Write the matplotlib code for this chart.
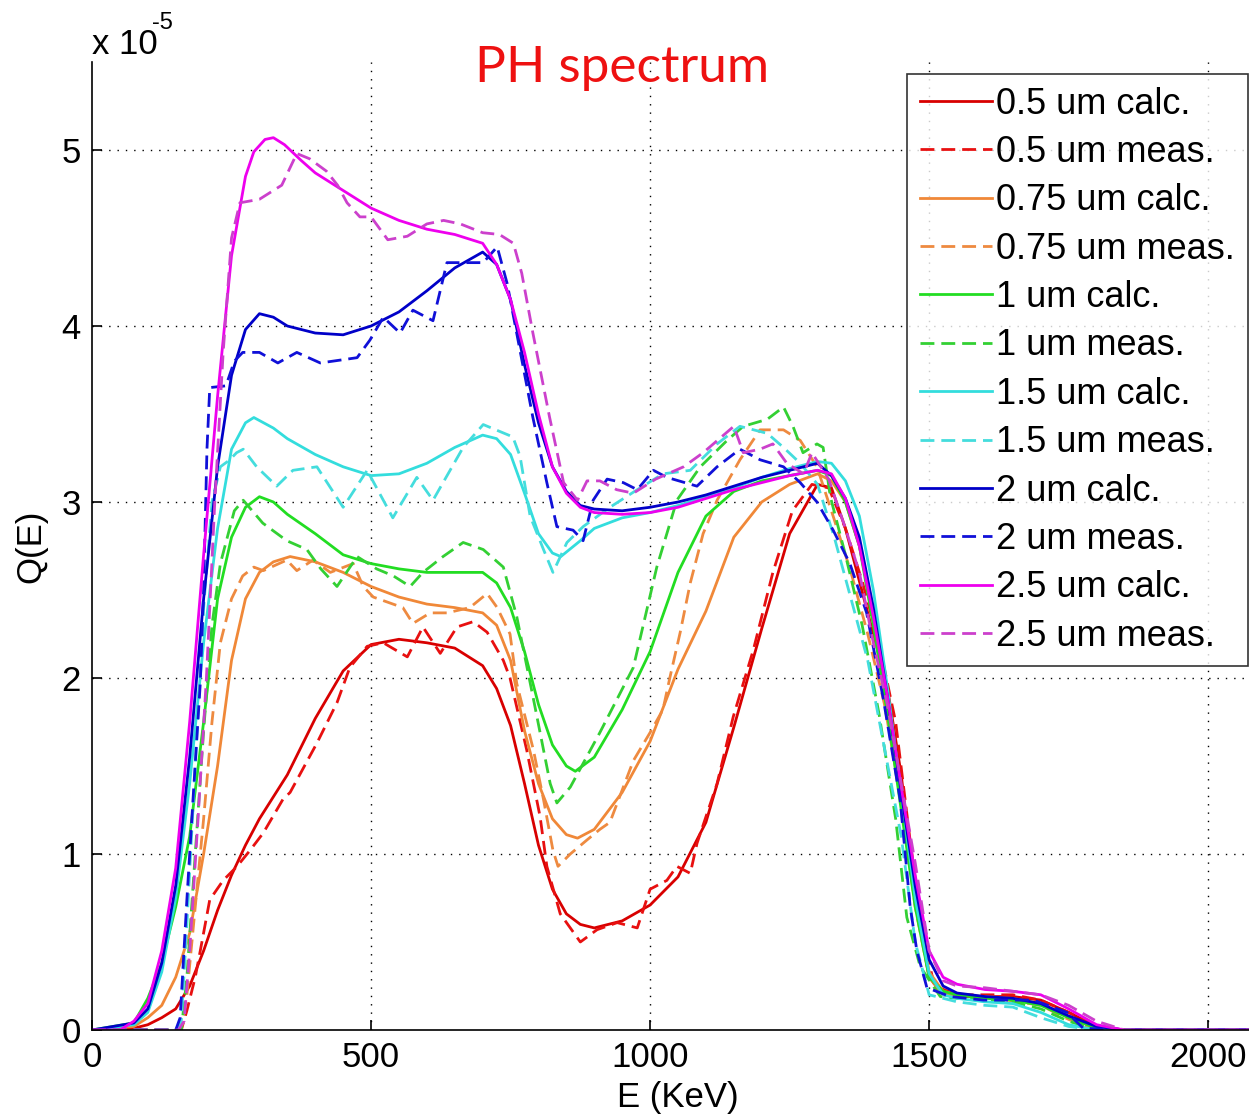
import matplotlib
matplotlib.use("Agg")
import matplotlib.pyplot as plt

# ---------------- data (Q in units of 1e-5) ----------------
E_r_calc = [0, 75, 100, 125, 150, 175, 200, 225, 250, 275, 300, 350, 400, 450, 500, 550, 600, 650, 700, 725, 750, 775, 800, 825, 850, 875, 900, 950, 1000, 1050, 1100, 1150, 1200, 1250, 1300, 1325, 1350, 1375, 1400, 1425, 1450, 1475, 1500, 1525, 1550, 1600, 1650, 1700, 1750, 1800, 1850, 2100]
Q_r_calc = [0, 0.01, 0.03, 0.07, 0.12, 0.25, 0.45, 0.68, 0.88, 1.05, 1.2, 1.45, 1.77, 2.04, 2.19, 2.22, 2.2, 2.17, 2.07, 1.94, 1.73, 1.4, 1.05, 0.8, 0.66, 0.6, 0.58, 0.62, 0.71, 0.87, 1.18, 1.72, 2.28, 2.82, 3.1, 3.08, 2.85, 2.55, 2.25, 1.95, 1.45, 0.75, 0.3, 0.2, 0.19, 0.19, 0.19, 0.17, 0.1, 0.02, 0, 0]

E_r_meas = [0, 160, 170, 185, 194, 211, 235, 260, 283, 307, 342, 355, 403, 439, 462, 493, 522, 565, 593, 624, 654, 683, 708, 737, 749, 779, 803, 815, 839, 875, 905, 941, 977, 1000, 1030, 1048, 1072, 1084, 1120, 1149, 1185, 1220, 1255, 1290, 1320, 1350, 1380, 1410, 1440, 1465, 1490, 1510, 1550, 1600, 1650, 1700, 1750, 1800, 1850, 2100]
Q_r_meas = [0, 0, 0.11, 0.3, 0.45, 0.74, 0.85, 0.93, 1.02, 1.12, 1.31, 1.35, 1.63, 1.86, 2.06, 2.18, 2.2, 2.12, 2.29, 2.14, 2.29, 2.32, 2.26, 2.1, 2.0, 1.59, 1.21, 0.93, 0.66, 0.5, 0.57, 0.61, 0.58, 0.8, 0.85, 0.93, 0.89, 1.06, 1.4, 1.78, 2.16, 2.6, 2.95, 3.1, 3.08, 2.85, 2.55, 2.2, 1.75, 1.1, 0.5, 0.25, 0.2, 0.2, 0.2, 0.17, 0.1, 0.02, 0, 0]

E_o_calc = [0, 75, 100, 125, 150, 175, 200, 225, 250, 275, 300, 325, 355, 400, 450, 500, 550, 600, 650, 700, 725, 750, 775, 800, 825, 850, 870, 900, 950, 1000, 1050, 1100, 1150, 1200, 1250, 1300, 1325, 1350, 1375, 1400, 1425, 1450, 1475, 1500, 1525, 1550, 1600, 1650, 1700, 1750, 1800, 1850, 2100]
Q_o_calc = [0, 0.02, 0.07, 0.14, 0.3, 0.55, 1.0, 1.5, 2.1, 2.45, 2.6, 2.66, 2.69, 2.66, 2.6, 2.52, 2.46, 2.42, 2.4, 2.37, 2.3, 2.1, 1.7, 1.4, 1.2, 1.11, 1.09, 1.14, 1.35, 1.64, 2.05, 2.38, 2.8, 3.0, 3.1, 3.16, 3.12, 3.0, 2.75, 2.35, 1.85, 1.3, 0.75, 0.33, 0.22, 0.2, 0.19, 0.18, 0.15, 0.07, 0.01, 0, 0]

E_o_meas = [0, 160, 170, 185, 200, 215, 230, 250, 270, 290, 307, 349, 367, 396, 427, 468, 486, 504, 557, 575, 606, 636, 677, 708, 726, 749, 761, 791, 809, 826, 835, 857, 887, 910, 928, 970, 1000, 1023, 1036, 1054, 1072, 1095, 1120, 1161, 1197, 1239, 1269, 1299, 1330, 1360, 1390, 1420, 1450, 1475, 1500, 1525, 1600, 1700, 1750, 1800, 1850, 2100]
Q_o_meas = [0, 0, 0.2, 0.7, 1.2, 1.75, 2.2, 2.45, 2.58, 2.63, 2.61, 2.67, 2.61, 2.67, 2.6, 2.65, 2.52, 2.46, 2.4, 2.31, 2.37, 2.37, 2.4, 2.48, 2.4, 2.25, 1.97, 1.59, 1.31, 1.02, 0.93, 1.0, 1.08, 1.14, 1.18, 1.53, 1.69, 1.82, 2.01, 2.26, 2.54, 2.82, 3.01, 3.24, 3.41, 3.41, 3.35, 3.2, 2.9, 2.6, 2.25, 1.85, 1.3, 0.7, 0.3, 0.2, 0.19, 0.14, 0.06, 0.0, 0, 0]

E_g_calc = [0, 75, 100, 125, 150, 175, 200, 225, 250, 275, 300, 325, 350, 400, 450, 500, 550, 600, 650, 700, 725, 750, 775, 800, 825, 850, 866, 900, 950, 1000, 1050, 1100, 1150, 1200, 1250, 1300, 1325, 1350, 1375, 1400, 1425, 1450, 1475, 1500, 1525, 1550, 1600, 1650, 1700, 1750, 1800, 1850, 2100]
Q_g_calc = [0, 0.04, 0.18, 0.38, 0.7, 1.1, 1.75, 2.45, 2.8, 2.97, 3.03, 3.0, 2.93, 2.82, 2.7, 2.65, 2.62, 2.6, 2.6, 2.6, 2.54, 2.4, 2.15, 1.85, 1.62, 1.5, 1.47, 1.55, 1.82, 2.15, 2.6, 2.92, 3.06, 3.12, 3.15, 3.18, 3.15, 3.0, 2.75, 2.3, 1.8, 1.25, 0.7, 0.3, 0.22, 0.2, 0.18, 0.17, 0.14, 0.07, 0.01, 0, 0]

E_g_meas = [0, 160, 170, 185, 200, 215, 230, 255, 271, 306, 349, 385, 410, 439, 475, 510, 540, 570, 593, 629, 665, 701, 737, 761, 791, 821, 833, 857, 910, 970, 1012, 1048, 1090, 1138, 1167, 1210, 1239, 1256, 1274, 1299, 1310, 1323, 1350, 1380, 1410, 1440, 1460, 1484, 1520, 1550, 1600, 1650, 1700, 1750, 1800, 2100]
Q_g_meas = [0, 0, 0.3, 1.0, 1.7, 2.3, 2.65, 2.95, 3.01, 2.88, 2.78, 2.73, 2.62, 2.52, 2.69, 2.62, 2.58, 2.52, 2.6, 2.69, 2.77, 2.73, 2.63, 2.35, 1.88, 1.4, 1.29, 1.38, 1.69, 2.06, 2.63, 3.01, 3.2, 3.35, 3.43, 3.47, 3.54, 3.43, 3.28, 3.33, 3.31, 3.03, 2.7, 2.3, 1.8, 1.2, 0.64, 0.36, 0.19, 0.18, 0.17, 0.16, 0.12, 0.05, 0, 0]

E_c_calc = [0, 75, 100, 125, 150, 175, 200, 225, 250, 275, 290, 325, 350, 400, 450, 500, 550, 600, 650, 700, 725, 750, 775, 800, 825, 840, 875, 900, 950, 1000, 1050, 1100, 1150, 1200, 1250, 1300, 1325, 1350, 1375, 1400, 1425, 1450, 1475, 1500, 1525, 1550, 1600, 1650, 1700, 1750, 1800, 2100]
Q_c_calc = [0, 0.03, 0.1, 0.33, 0.75, 1.4, 2.2, 2.85, 3.3, 3.45, 3.48, 3.42, 3.36, 3.27, 3.2, 3.15, 3.16, 3.22, 3.31, 3.38, 3.36, 3.27, 3.05, 2.82, 2.71, 2.69, 2.78, 2.85, 2.91, 2.94, 2.98, 3.03, 3.08, 3.14, 3.19, 3.23, 3.22, 3.12, 2.92, 2.5, 1.95, 1.35, 0.75, 0.32, 0.2, 0.18, 0.16, 0.15, 0.1, 0.03, 0, 0]

E_c_meas = [0, 150, 160, 170, 185, 200, 215, 230, 247, 259, 271, 295, 331, 360, 403, 450, 493, 539, 582, 611, 665, 701, 754, 767, 785, 809, 826, 851, 880, 928, 977, 1023, 1072, 1120, 1161, 1210, 1239, 1269, 1300, 1330, 1360, 1390, 1420, 1450, 1475, 1500, 1550, 1600, 1650, 1700, 1750, 1800, 2100]
Q_c_meas = [0, 0, 0.05, 0.6, 1.5, 2.4, 3.0, 3.2, 3.24, 3.28, 3.3, 3.2, 3.09, 3.18, 3.2, 2.97, 3.18, 2.91, 3.14, 3.01, 3.31, 3.44, 3.37, 3.26, 2.92, 2.73, 2.6, 2.77, 2.86, 2.97, 3.07, 3.16, 3.18, 3.33, 3.43, 3.39, 3.31, 3.22, 3.1, 2.8, 2.45, 2.1, 1.6, 1.1, 0.5, 0.2, 0.16, 0.14, 0.13, 0.07, 0.02, 0, 0]

E_b_calc = [0, 75, 100, 125, 150, 175, 200, 225, 250, 275, 300, 325, 350, 400, 450, 500, 550, 600, 650, 700, 725, 750, 775, 800, 825, 850, 875, 900, 950, 1000, 1050, 1100, 1150, 1200, 1250, 1300, 1325, 1350, 1375, 1400, 1425, 1450, 1475, 1500, 1525, 1550, 1600, 1650, 1700, 1750, 1800, 1850, 2100]
Q_b_calc = [0, 0.04, 0.12, 0.38, 0.82, 1.55, 2.45, 3.2, 3.72, 3.98, 4.07, 4.05, 4.0, 3.96, 3.95, 4.0, 4.08, 4.2, 4.33, 4.42, 4.35, 4.15, 3.78, 3.45, 3.2, 3.06, 2.98, 2.96, 2.95, 2.97, 3.0, 3.04, 3.09, 3.14, 3.18, 3.22, 3.15, 3.02, 2.8, 2.4, 1.9, 1.35, 0.82, 0.4, 0.25, 0.21, 0.19, 0.18, 0.15, 0.08, 0.02, 0, 0]

E_b_meas = [0, 150, 158, 170, 181, 194, 200, 206, 211, 240, 255, 270, 300, 333, 367, 409, 475, 498, 522, 552, 575, 611, 636, 701, 726, 744, 767, 790, 815, 833, 862, 880, 898, 923, 952, 977, 1006, 1030, 1084, 1120, 1161, 1197, 1239, 1269, 1299, 1328, 1358, 1388, 1418, 1448, 1466, 1478, 1496, 1538, 1597, 1687, 1747, 1776, 1850, 2100]
Q_b_meas = [0, 0, 0.07, 0.74, 1.31, 1.97, 2.5, 3.3, 3.65, 3.66, 3.8, 3.85, 3.85, 3.79, 3.85, 3.79, 3.82, 3.92, 4.05, 3.96, 4.09, 4.03, 4.36, 4.36, 4.45, 4.24, 3.86, 3.48, 3.11, 2.86, 2.84, 2.78, 3.01, 3.13, 3.11, 3.07, 3.18, 3.14, 3.09, 3.2, 3.3, 3.24, 3.2, 3.11, 3.0, 2.84, 2.65, 2.37, 1.88, 1.31, 0.7, 0.45, 0.24, 0.19, 0.17, 0.17, 0.1, 0.01, 0, 0]

E_m_calc = [0, 50, 75, 100, 125, 150, 175, 200, 225, 250, 275, 290, 310, 325, 345, 375, 400, 450, 500, 550, 600, 650, 700, 725, 750, 775, 800, 825, 850, 875, 900, 950, 1000, 1050, 1100, 1150, 1200, 1250, 1300, 1325, 1350, 1375, 1400, 1425, 1450, 1475, 1500, 1525, 1550, 1600, 1650, 1700, 1750, 1800, 1850, 2100]
Q_m_calc = [0, 0, 0.05, 0.15, 0.45, 0.92, 1.75, 2.7, 3.6, 4.4, 4.85, 4.99, 5.06, 5.07, 5.03, 4.94, 4.87, 4.77, 4.67, 4.6, 4.55, 4.52, 4.47, 4.35, 4.15, 3.85, 3.5, 3.2, 3.05, 2.97, 2.94, 2.93, 2.94, 2.97, 3.02, 3.07, 3.11, 3.15, 3.18, 3.16, 3.02, 2.75, 2.35, 1.9, 1.38, 0.88, 0.45, 0.3, 0.26, 0.23, 0.22, 0.2, 0.12, 0.03, 0, 0]

E_m_meas = [0, 155, 165, 175, 190, 205, 220, 235, 250, 265, 300, 340, 367, 390, 420, 440, 457, 480, 500, 530, 565, 600, 630, 660, 700, 730, 755, 770, 790, 820, 845, 870, 887, 910, 940, 970, 1010, 1060, 1095, 1150, 1167, 1197, 1220, 1245, 1275, 1290, 1320, 1350, 1375, 1400, 1425, 1450, 1475, 1500, 1525, 1550, 1600, 1650, 1700, 1750, 1800, 1850, 2100]
Q_m_meas = [0, 0, 0.05, 0.45, 1.2, 2.0, 3.0, 3.85, 4.5, 4.7, 4.72, 4.8, 4.98, 4.95, 4.88, 4.8, 4.7, 4.62, 4.62, 4.49, 4.51, 4.58, 4.6, 4.58, 4.53, 4.52, 4.47, 4.3, 3.96, 3.48, 3.11, 3.01, 3.12, 3.12, 3.07, 3.05, 3.13, 3.2, 3.28, 3.43, 3.28, 3.3, 3.33, 3.22, 3.16, 3.28, 3.13, 2.85, 2.6, 2.2, 1.85, 1.4, 0.95, 0.45, 0.28, 0.25, 0.24, 0.22, 0.2, 0.14, 0.05, 0, 0]

labels = ["0.5 um calc.", "0.5 um meas.", "0.75 um calc.", "0.75 um meas.",
          "1 um calc.", "1 um meas.", "1.5 um calc.", "1.5 um meas.",
          "2 um calc.", "2 um meas.", "2.5 um calc.", "2.5 um meas."]
xticks = [0, 500, 1000, 1500, 2000]
yticks = [0, 1, 2, 3, 4, 5]

series = [
    (E_r_calc, Q_r_calc, "#d80000", "-"),
    (E_r_meas, Q_r_meas, "#e81010", "--"),
    (E_o_calc, Q_o_calc, "#f08838", "-"),
    (E_o_meas, Q_o_meas, "#ee8a40", "--"),
    (E_g_calc, Q_g_calc, "#22dd22", "-"),
    (E_g_meas, Q_g_meas, "#33d033", "--"),
    (E_c_calc, Q_c_calc, "#33dddd", "-"),
    (E_c_meas, Q_c_meas, "#44dddd", "--"),
    (E_b_calc, Q_b_calc, "#0000c8", "-"),
    (E_b_meas, Q_b_meas, "#1010d8", "--"),
    (E_m_calc, Q_m_calc, "#ee00ee", "-"),
    (E_m_meas, Q_m_meas, "#cc40cc", "--"),
]

FONT = "Liberation Sans"
W, H = 1249, 1119
fig = plt.figure(figsize=(W / 100, H / 100), dpi=100)
ax = fig.add_axes([92 / W, (H - 1030) / H, 1172 / W, 968 / H])

for (x, y, c, ls), lab in zip(series, labels):
    if ls == "-":
        ax.plot(x, y, color=c, lw=2.0, label=lab)
    else:
        ax.plot(x, y, color=c, lw=2.0, linestyle=(0, (5, 2.5)), label=lab)

ax.set_xlim(0, 2100)
ax.set_ylim(0, 5.5)
ax.set_xticks(xticks)
ax.set_yticks(yticks)
ax.set_xticklabels([str(v) for v in xticks], fontfamily=FONT, fontsize=25)
ax.set_yticklabels([str(v) for v in yticks], fontfamily=FONT, fontsize=25)
ax.tick_params(direction="in", length=7, width=1.2, pad=8)
ax.spines["top"].set_visible(False)
ax.spines["right"].set_visible(False)
for s in ("left", "bottom"):
    ax.spines[s].set_linewidth(1.2)

for v in xticks[1:]:
    ax.axvline(v, color="black", lw=1.0, linestyle=(0, (1, 5)), zorder=0)
for v in yticks[1:]:
    ax.axhline(v, color="black", lw=1.0, linestyle=(0, (1, 5)), zorder=0)

ax.set_xlabel("E (KeV)", fontfamily=FONT, fontsize=25, labelpad=5)
ax.set_ylabel("Q(E)", fontfamily=FONT, fontsize=25, labelpad=10)

fig.text(92 / W, 1 - 54 / H, "x 10", fontfamily=FONT, fontsize=25, ha="left", va="baseline")
fig.text(152 / W, 1 - 29 / H, "-5", fontfamily=FONT, fontsize=17, ha="left", va="baseline")
fig.text(622 / W, 1 - 68 / H, "PH spectrum", fontfamily="Lato", fontweight="normal",
         fontsize=37, color="#ee1111", ha="center", va="center")

leg = ax.legend(loc="upper left", bbox_to_anchor=(907 / W, 1 - 74 / H),
                bbox_transform=fig.transFigure, borderaxespad=0,
                prop={"family": FONT, "size": 26}, frameon=True, fancybox=False,
                handlelength=2.0, handletextpad=0.12, labelspacing=0.37,
                borderpad=0.35)
leg.get_frame().set_edgecolor("black")
leg.get_frame().set_linewidth(1.2)

fig.savefig("out.png", dpi=100)
